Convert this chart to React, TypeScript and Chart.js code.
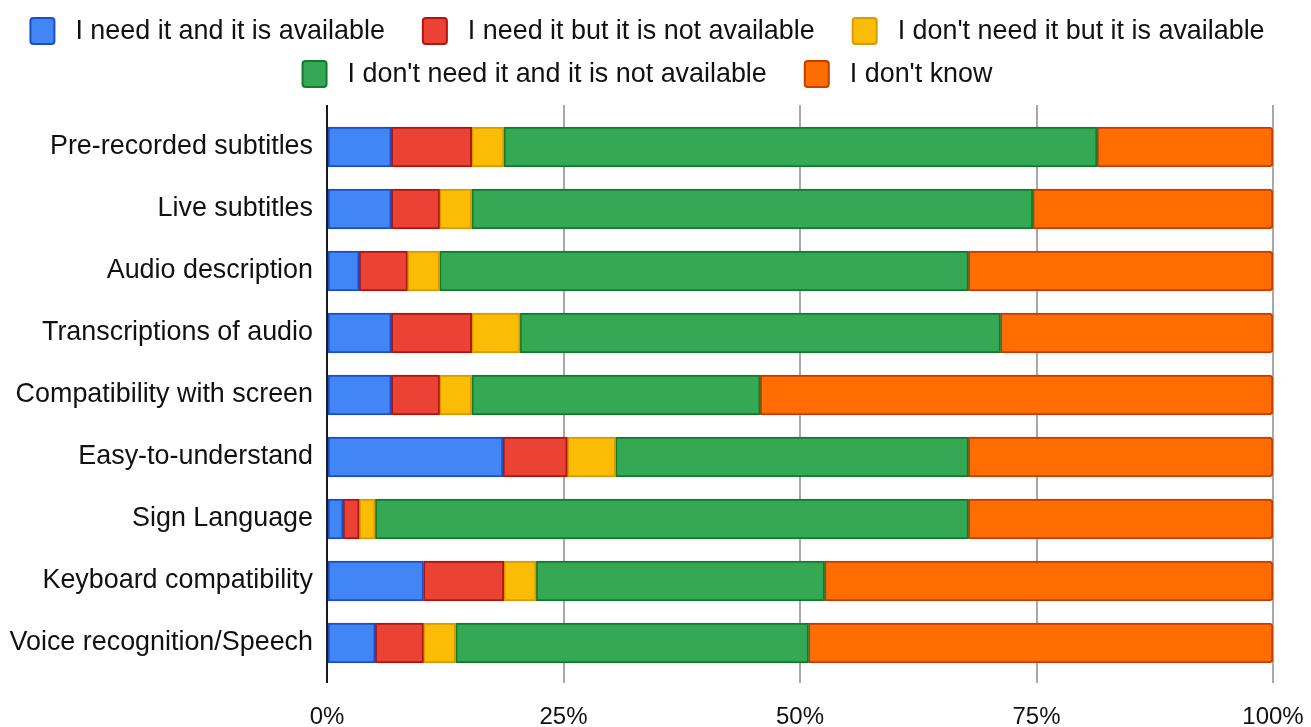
import { useEffect, useRef } from 'react';
import { Chart, registerables } from 'chart.js';

Chart.register(...registerables);

// Accessibility features and how respondents rated their availability (share of answers, %)
const categories = [
  'Pre-recorded subtitles',
  'Live subtitles',
  'Audio description',
  'Transcriptions of audio',
  'Compatibility with screen',
  'Easy-to-understand',
  'Sign Language',
  'Keyboard compatibility',
  'Voice recognition/Speech',
];

const seriesLabels = [
  'I need it and it is available',
  'I need it but it is not available',
  "I don't need it but it is available",
  "I don't need it and it is not available",
  "I don't know",
];

const needAvailable = [6.8, 6.8, 3.4, 6.8, 6.8, 18.6, 1.7, 10.2, 5.1];
const needNotAvailable = [8.5, 5.1, 5.1, 8.5, 5.1, 6.8, 1.7, 8.5, 5.1];
const noNeedAvailable = [3.4, 3.4, 3.4, 5.1, 3.4, 5.1, 1.7, 3.4, 3.4];
const noNeedNotAvailable = [62.7, 59.3, 55.9, 50.8, 30.5, 37.3, 62.7, 30.5, 37.3];
const dontKnow = [18.6, 25.4, 32.2, 28.8, 54.2, 32.2, 32.2, 47.4, 49.1];

const xTickValues = [0, 25, 50, 75, 100];

const fillColors = ['#4285f4', '#ea4335', '#fbbc05', '#34a853', '#ff6d00'];
const edgeColors = ['#1c4fc4', '#b0150f', '#dc9a00', '#137a31', '#c43e00'];

const FONT_FAMILY = '"Liberation Sans", Arial, Helvetica, sans-serif';
const LABEL_SIZE = 26.9;
const TICK_SIZE = 24;

// Two-row legend drawn above the plot area
const twoRowLegend = {
  id: 'twoRowLegend',
  afterDraw(chart: any) {
    const ctx: CanvasRenderingContext2D = chart.ctx;
    const rows = [[0, 1, 2], [3, 4]];
    const rowY = [31, 74];
    const boxW = 26;
    const boxH = 28;
    const boxGap = 20;
    const itemGap = 37;
    const center = 647;
    ctx.save();
    ctx.font = `${LABEL_SIZE}px ${FONT_FAMILY}`;
    ctx.textBaseline = 'middle';
    ctx.textAlign = 'left';
    rows.forEach((row, r) => {
      const widths = row.map((i) => ctx.measureText(chart.data.datasets[i].label).width);
      const total =
        widths.reduce((acc, w) => acc + w + boxW + boxGap, 0) + itemGap * (row.length - 1);
      let x = center - total / 2;
      row.forEach((i, k) => {
        const ds = chart.data.datasets[i];
        const y = rowY[r];
        ctx.beginPath();
        if ((ctx as any).roundRect) {
          (ctx as any).roundRect(x + 1, y - boxH / 2 + 1, boxW - 2, boxH - 2, 3);
        } else {
          ctx.rect(x + 1, y - boxH / 2 + 1, boxW - 2, boxH - 2);
        }
        ctx.fillStyle = ds.backgroundColor;
        ctx.fill();
        ctx.lineWidth = 2;
        ctx.strokeStyle = ds.borderColor;
        ctx.stroke();
        ctx.fillStyle = '#111';
        ctx.fillText(ds.label, x + boxW + boxGap, y + 1);
        x += boxW + boxGap + widths[k] + itemGap;
      });
    });
    ctx.restore();
  },
};

// The end tick labels may overhang the plot edges; keep the plot width fixed
const noEdgePadding = (scale: any) => {
  scale.paddingLeft = 0;
  scale.paddingRight = 0;
};

export default function App() {
  const canvasRef = useRef<HTMLCanvasElement | null>(null);

  useEffect(() => {
    if (!canvasRef.current) return;
    const series = [needAvailable, needNotAvailable, noNeedAvailable, noNeedNotAvailable, dontKnow];
    const gridColor = (c: any) => (c.index === 0 ? '#1a1a1a' : '#a8a8a8');

    const chart = new Chart(canvasRef.current, {
      type: 'bar',
      data: {
        labels: categories,
        datasets: series.map((values, i) => ({
          label: seriesLabels[i],
          data: values,
          backgroundColor: fillColors[i],
          borderColor: edgeColors[i],
          borderWidth: 2,
          borderSkipped: false,
          borderRadius:
            i === series.length - 1
              ? { topLeft: 0, bottomLeft: 0, topRight: 4, bottomRight: 4 }
              : 0,
          barThickness: 40,
        })),
      },
      options: {
        indexAxis: 'y',
        responsive: false,
        animation: false,
        layout: { padding: { top: 105, right: 38, bottom: 0, left: 0 } },
        plugins: {
          legend: { display: false },
          tooltip: { enabled: false },
        },
        scales: {
          x: {
            type: 'linear',
            position: 'bottom',
            stacked: true,
            min: 0,
            max: 100,
            afterBuildTicks: (scale: any) => {
              scale.ticks = xTickValues.map((v) => ({ value: v }));
            },
            afterFit: (scale: any) => {
              scale.height = 53;
              noEdgePadding(scale);
            },
            border: { display: false },
            grid: {
              color: gridColor,
              lineWidth: 2,
              drawTicks: true,
              tickLength: 9,
            },
            ticks: {
              padding: 20,
              color: '#111',
              font: { family: FONT_FAMILY, size: TICK_SIZE },
              callback: (v: any) => `${v}%`,
              maxRotation: 0,
            },
          },
          xTop: {
            type: 'linear',
            position: 'top',
            min: 0,
            max: 100,
            afterBuildTicks: (scale: any) => {
              scale.ticks = xTickValues.map((v) => ({ value: v }));
            },
            afterFit: noEdgePadding,
            border: { display: false },
            grid: {
              color: gridColor,
              lineWidth: 2,
              drawTicks: true,
              tickLength: 11,
            },
            ticks: { display: false },
          },
          y: {
            type: 'category',
            stacked: true,
            afterFit: (scale: any) => {
              scale.width = 327;
            },
            border: { display: false },
            grid: { display: false, drawTicks: false },
            ticks: {
              padding: 14,
              color: '#111',
              font: { family: FONT_FAMILY, size: LABEL_SIZE },
            },
          },
        },
      },
      plugins: [twoRowLegend],
    } as any);

    return () => chart.destroy();
  }, []);

  return (
    <div style={{ position: 'fixed', left: 0, top: 0, width: 1311, height: 727, background: '#fff' }}>
      <canvas ref={canvasRef} width={1311} height={727} style={{ display: 'block' }} />
    </div>
  );
}
